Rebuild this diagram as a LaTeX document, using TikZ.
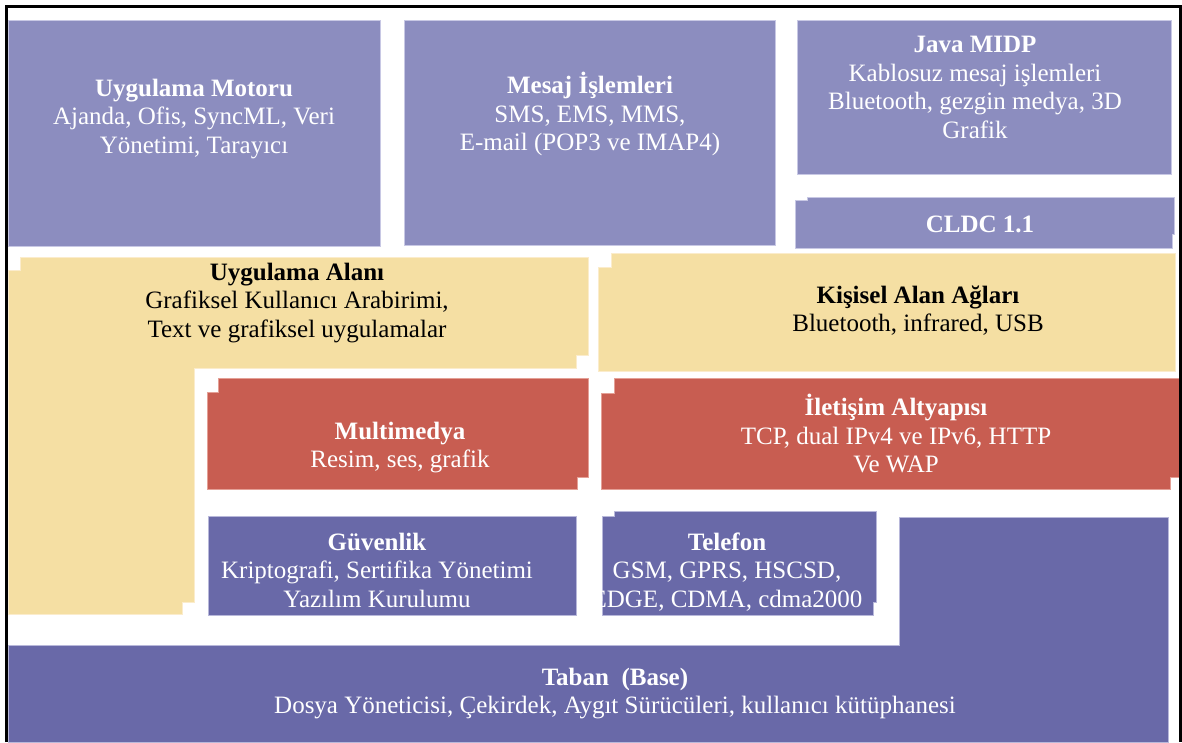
\documentclass[tikz,border=0pt]{standalone}
\usepackage{fontspec}
\setmainfont{Liberation Serif}
\definecolor{lav}{RGB}{140,141,191}
\definecolor{lavL}{RGB}{200,200,228}
\definecolor{blu}{RGB}{105,105,168}
\definecolor{bluL}{RGB}{184,184,218}
\definecolor{rdd}{RGB}{200,93,81}
\definecolor{rddL}{RGB}{228,160,150}
\definecolor{bei}{RGB}{245,223,163}
\definecolor{beiL}{RGB}{251,236,204}
\tikzset{
  box/.style={line width=1pt},
  lavbox/.style={box, fill=lav, draw=lavL},
  blubox/.style={box, fill=blu, draw=bluL},
  redbox/.style={box, fill=rdd, draw=rddL},
  beibox/.style={box, fill=bei, draw=beiL},
  lbl/.style={align=center, inner sep=0pt, text=white,
    font=\fontsize{25}{28.5}\selectfont},
  dark/.style={lbl, text=black},
  frameline/.style={line width=3pt, black}
}
\begin{document}
\begin{tikzpicture}[x=1pt, y=-1pt]
\useasboundingbox (0,0) rectangle (1182,742);

% upper row: application engine, messaging, Java stack
\fill[lavbox] (8,20) rectangle (380,246);
\fill[lavbox] (404,20) rectangle (775,245);
\fill[lavbox] (797,20) rectangle (1171,174);
\fill[lavbox] (807,197) -- (1174,197) -- (1174,234) -- (1172,234) -- (1172,248)
  -- (795,248) -- (795,200) -- (807,200) -- cycle;

% application area (L-shaped) and personal area networks
\fill[beibox] (20,257) -- (588,257) -- (588,355) -- (576,355) -- (576,368)
  -- (194,368) -- (194,602) -- (182,602) -- (182,614) -- (8,614) -- (8,270)
  -- (20,270) -- cycle;
\fill[beibox] (611,253) -- (1175,253) -- (1175,371) -- (598,371) -- (598,267)
  -- (611,267) -- cycle;

% multimedia and communication infrastructure
\fill[redbox] (218,378) -- (588,378) -- (588,477) -- (577,477) -- (577,489)
  -- (207,489) -- (207,392) -- (218,392) -- cycle;
\fill[redbox] (614,378) -- (1179,378) -- (1179,477) -- (1170,477) -- (1170,489)
  -- (601,489) -- (601,393) -- (614,393) -- cycle;

% security, telephony and base
\fill[blubox] (208,516) rectangle (576,615);
\fill[blubox] (614,511) -- (876,511) -- (876,602) -- (873,602) -- (873,615)
  -- (602,615) -- (602,516) -- (614,516) -- cycle;
\fill[blubox] (8,645) -- (899,645) -- (899,517) -- (1168,517) -- (1168,742)
  -- (8,742) -- cycle;

% labels
\node[lbl] (motor) at (194,119) {\strut\textbf{Uygulama Motoru}\\Ajanda, Ofis, SyncML, Veri\\Yönetimi, Tarayıcı\strut};
\node[lbl] (mesaj) at (590,116) {\strut\textbf{Mesaj İşlemleri}\\SMS, EMS, MMS,\\E-mail (POP3 ve IMAP4)\strut};
\node[lbl] (java) at (975,90) {\strut\textbf{Java MIDP}\\Kablosuz mesaj işlemleri\\Bluetooth, gezgin medya, 3D\\Grafik\strut};
\node[lbl] (cldc) at (980,227) {\strut\textbf{CLDC 1.1}\strut};
\node[dark] (alani) at (297,303) {\strut\textbf{Uygulama Alanı}\\Grafiksel Kullanıcı Arabirimi,\\Text ve grafiksel uygulamalar\strut};
\node[dark] (kisisel) at (918,312) {\strut\textbf{Kişisel Alan Ağları}\\Bluetooth, infrared, USB\strut};
\node[lbl] (multi) at (400,448) {\strut\textbf{Multimedya}\\Resim, ses, grafik\strut};
\node[lbl] (iletisim) at (896,438) {\strut\textbf{İletişim Altyapısı}\\TCP, dual IPv4 ve IPv6, HTTP\\Ve WAP\strut};
\node[lbl] (guven) at (377,573) {\strut\textbf{Güvenlik}\\Kriptografi, Sertifika Yönetimi\\Yazılım Kurulumu\strut};
\begin{scope}
  \clip (614,511) -- (876,511) -- (876,615) -- (602,615) -- (602,516) -- (614,516) -- cycle;
  \node[lbl] (telefon) at (727,573) {\strut\textbf{Telefon}\\GSM, GPRS, HSCSD,\\EDGE, CDMA, cdma2000\strut};
\end{scope}
\node[lbl] (taban) at (615,694) {\strut\textbf{Taban\ \ (Base)}\\Dosya Yöneticisi, Çekirdek, Aygıt Sürücüleri, kullanıcı kütüphanesi\strut};

% outer frame
\draw[frameline] (6.5,742) -- (6.5,6.5) -- (1180.5,6.5) -- (1180.5,742);
\end{tikzpicture}
\end{document}
